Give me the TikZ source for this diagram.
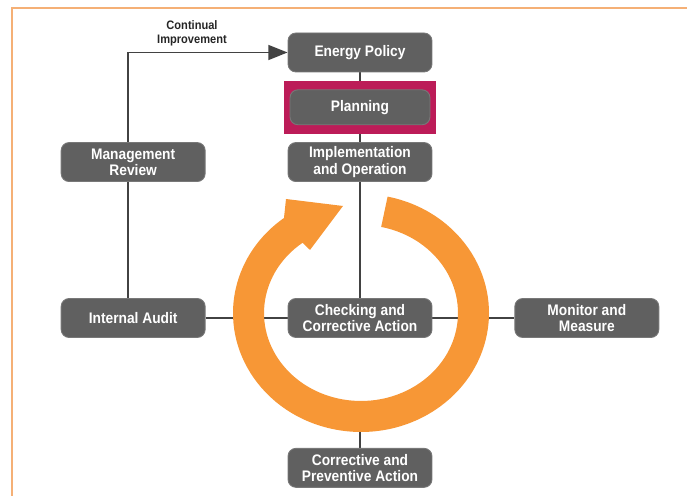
\documentclass[tikz,border=0pt]{standalone}
\usepackage{fontspec}
\setmainfont{Liberation Sans}[FakeStretch=0.9]
\usetikzlibrary{arrows.meta, positioning, calc, backgrounds}
\definecolor{boxgrey}{RGB}{96,96,96}
\definecolor{linegrey}{RGB}{66,66,66}
\definecolor{ringorange}{RGB}{247,151,54}
\definecolor{frameorange}{RGB}{245,176,118}
\definecolor{planmagenta}{RGB}{188,28,88}

\begin{document}
\begin{tikzpicture}[x=0.02cm, y=0.02cm, >={Triangle[length=11pt, width=8.5pt]},
  box/.style={fill=boxgrey, draw=boxgrey!85!white, line width=0.5pt, rounded corners=4.5pt,
    minimum width=2.88cm, minimum height=0.78cm, inner sep=1pt, align=center,
    text=white, font=\fontsize{8.7}{9.2}\selectfont\bfseries},
  link/.style={draw=linegrey, line width=1.1pt}]
  \useasboundingbox (0,0) rectangle (687,496);
  \draw[frameorange, line width=1.5pt] (12,0) -- (12,488) -- (687,488);

  \node[box] (policy) at (360,443.5) {Energy Policy};
  \node[fill=planmagenta, inner sep=0pt, minimum width=3.06cm, minimum height=1.06cm,
    below=0.16cm of policy] (planframe) {};
  \node[box, minimum width=2.8cm, minimum height=0.7cm] (plan) at (planframe) {Planning};
  \node[box, below=0.16cm of planframe] (impl) {Implementation\\and Operation};
  \node[box, left=1.64cm of impl] (review) {Management\\Review};

  \node[box] (check) at (360,178) {Checking and\\Corrective Action};
  \node[box, left=1.64cm of check] (audit) {Internal Audit};
  \node[box, right=1.64cm of check] (monitor) {Monitor and\\Measure};
  \node[box, below=2.2cm of check] (cpa) {Corrective and\\Preventive Action};

  \node[align=center, text=black!85, font=\fontsize{7}{8}\selectfont\bfseries] (improve)
    at (192,463) {Continual\\Improvement};

  \begin{scope}[on background layer]
    \coordinate (bend) at (128,443.5);
    \coordinate (ringlow) at (360,80);
    \draw[link] (audit.north -| bend) -- (review.south -| bend);
    \draw[link, ->] (review.north -| bend) -- (bend) -- (policy.west);
    \draw[link] (policy) -- (impl);
    \draw[link] (impl) -- (check);
    \draw[link] (ringlow) -- (cpa);
    \draw[link] (audit) -- (check) -- (monitor);
  \end{scope}

  % cycle arrow
  \fill[ringorange] (361,183) ++(78:2.56cm and 2.38cm)
    arc[start angle=78, end angle=-233, x radius=2.56cm, y radius=2.38cm]
    -- (286,297) -- (343,290) -- (310,246)
    -- ($(361,183)+(-233:1.94cm and 1.76cm)$)
    arc[start angle=-233, end angle=78, x radius=1.94cm, y radius=1.76cm] -- cycle;
\end{tikzpicture}
\end{document}
